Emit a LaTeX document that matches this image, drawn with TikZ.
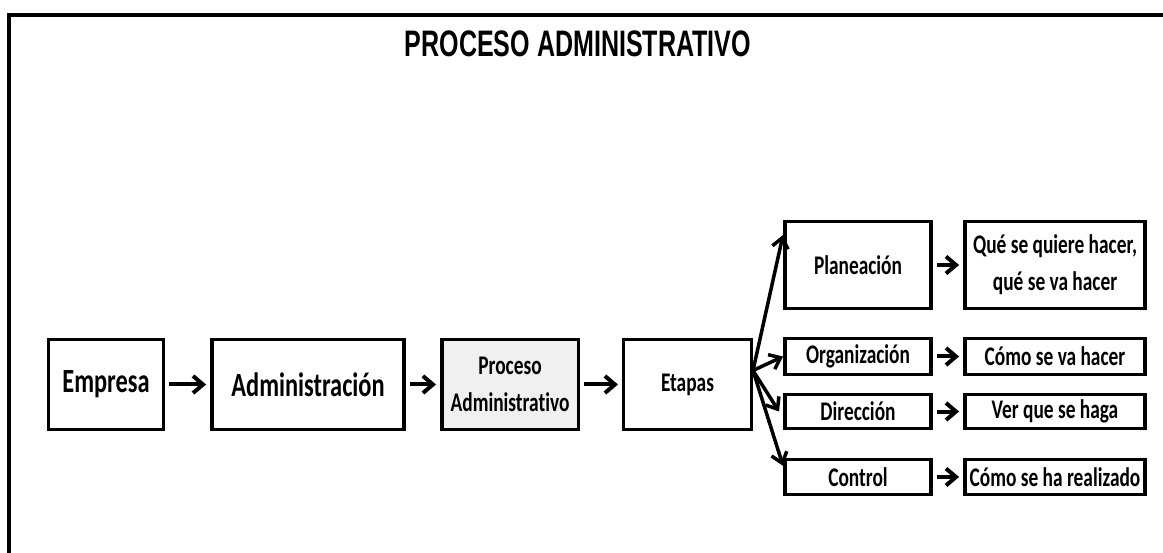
\documentclass[tikz,border=0pt]{standalone}
\usepackage{fontspec}
\newfontfamily\calfont[FakeStretch=0.72,Ligatures=NoCommon]{Carlito}
\newfontfamily\titlefont[FakeStretch=0.68]{Liberation Sans}
\usetikzlibrary{arrows.meta}

\begin{document}
\begin{tikzpicture}[x=1bp,y=-1bp,
    caja/.style={draw,line width=3.5bp,inner sep=0pt,align=center,
      font=\calfont\bfseries\fontsize{27}{37}\selectfont},
    grande/.style={font=\calfont\bfseries\fontsize{34}{37}\selectfont},
    flecha/.style={line width=4bp,shorten <=4bp,shorten >=4bp,
      -{Straight Barb[length=10bp,width=17bp]}},
    rama/.style={line width=3.5bp,-{Straight Barb[length=10bp,width=16bp]}}]
                                    \def\ymid{384.5};\def\xmed{858};\def\xfin{1055};
                                    \useasboundingbox (0,0) rectangle (1163,553);
% marco
                                    \draw[line width=3.5bp] (9,553) -- (9,15) -- (1163,15);
                                    \node[font=\titlefont\bfseries\fontsize{37}{37}\selectfont] (titulo) at (578,44) {PROCESO ADMINISTRATIVO};

% cadena
                                    \node[caja,grande,minimum width=115,minimum height=90] (empresa) at (106,\ymid) {Empresa};
                                    \node[caja,grande,minimum width=193,minimum height=90] (admin) at (308,\ymid) {Administración};
                                    \node[caja,fill=black!6,minimum width=137,minimum height=90] (proceso) at (510,\ymid) {Proceso\\Administrativo};
                                    \node[caja,minimum width=128,minimum height=90] (etapas) at (687.5,\ymid) {Etapas};
                                    \draw[flecha] (empresa) -- (admin);
                                    \draw[flecha] (admin) -- (proceso);
                                    \draw[flecha] (proceso) -- (etapas);

% etapas
                                    \node[caja,minimum width=147,minimum height=87] (plan) at (\xmed,265) {Planeación};
                                    \node[caja,minimum width=147,minimum height=36] (org) at (\xmed,356.5) {Organización};
                                    \node[caja,minimum width=147,minimum height=34] (dir) at (\xmed,411.5) {Dirección};
                                    \node[caja,minimum width=147,minimum height=35] (ctrl) at (\xmed,477) {Control};
                                    \node[caja,minimum width=181,minimum height=87] (que) at (\xfin,265) {Qué se quiere hacer,\\qué se va hacer};
                                    \node[caja,minimum width=181,minimum height=36] (como) at (\xfin,356.5) {Cómo se va hacer};
                                    \node[caja,minimum width=181,minimum height=34] (ver) at (\xfin,411.5) {Ver que se haga};
                                    \node[caja,minimum width=181,minimum height=35] (real) at (\xfin,477) {Cómo se ha realizado};
                                    \coordinate (abanico) at ([yshift=14bp]etapas.east);
                                    \draw[rama] (abanico) -- ([yshift=30bp]plan.west);
                                    \draw[rama] (abanico) -- (org.west);
                                    \draw[rama] (abanico) -- ([xshift=-4bp]dir.west);
                                    \draw[rama] (abanico) -- ([yshift=-8bp]ctrl.north west);
                                    \draw[flecha] (plan) -- (que);
                                    \draw[flecha] (org) -- (como);
                                    \draw[flecha] (dir) -- (ver);
                                    \draw[flecha] (ctrl) -- (real);
                                \end{tikzpicture}
\end{document}
